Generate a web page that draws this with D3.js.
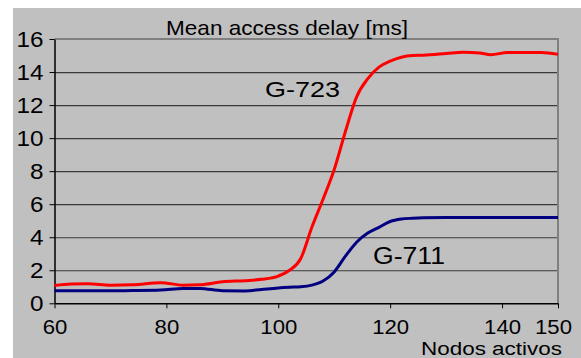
<!DOCTYPE html>
<html><head><meta charset="utf-8">
<script src="https://cdn.jsdelivr.net/npm/d3@7"></script>
<style>html,body{margin:0;padding:0;background:#fff;overflow:hidden}</style>
</head><body>
<svg id="c" width="581" height="358"></svg>
<script>
const nodes = [60, 63, 66, 70, 74, 79, 83, 86, 90, 94, 97, 100, 102, 104, 106, 108, 110, 112, 114, 116, 118, 120, 122, 124, 126, 130, 133, 136, 138, 141, 144, 147, 150];
const g723  = [1.08,1.17,1.18,1.10,1.12,1.25,1.10,1.12,1.30,1.37,1.45,1.65,2.0,2.7,4.6,6.3,8.1,10.4,12.5,13.6,14.3,14.66,14.9,15.0,15.02,15.12,15.2,15.15,15.05,15.18,15.18,15.18,15.07];
const g711  = [0.76,0.76,0.76,0.76,0.77,0.80,0.90,0.90,0.76,0.75,0.84,0.93,0.97,1.0,1.1,1.35,1.9,2.85,3.7,4.25,4.6,4.95,5.1,5.15,5.18,5.2,5.2,5.2,5.2,5.2,5.2,5.2,5.2];
const yTicks = [0,2,4,6,8,10,12,14,16];
const xTicks = [60,80,100,120,140,150];
const title = "Mean access delay [ms]";
const xTitle = "Nodos activos";
const seriesNames = ["G-723","G-711"];

const svg = d3.select("#c");
const F = "'Liberation Sans', Arial, sans-serif";
const L = 54.5, R = 558, T = 39, B = 303.3;
const x = d3.scaleLinear().domain([60,150]).range([L,R]);
const y = d3.scaleLinear().domain([0,16]).range([B,T]);

svg.append("rect").attr("x",13).attr("y",8).attr("width",568).attr("height",350).attr("fill","#c0c0c0");

// gridlines
svg.append("g").attr("transform",`translate(${L},0)`)
  .call(d3.axisLeft(y).tickValues(yTicks.slice(1,-1)).tickSize(-(R-L)).tickFormat(""))
  .call(g=>g.select(".domain").remove())
  .call(g=>g.selectAll("line").attr("stroke","#3a3a3a").attr("stroke-width",1.2));

// border top/right
svg.append("path").attr("d",`M${L},${T}H${R}V${B}`).attr("fill","none").attr("stroke","#808080").attr("stroke-width",2);

// y axis
svg.append("g").attr("transform",`translate(${L},0)`)
  .call(d3.axisLeft(y).tickValues(yTicks).tickSize(5).tickSizeOuter(0).tickPadding(6))
  .call(g=>g.select(".domain").attr("stroke","#000").attr("stroke-width",1.5))
  .call(g=>g.selectAll("line").attr("stroke","#000"))
  .call(g=>g.selectAll("text").attr("font-family",F).attr("font-size",22).attr("fill","#000")
    .attr("textLength",d=>String(d).length*13.5).attr("lengthAdjust","spacingAndGlyphs"));

// x axis
svg.append("g").attr("transform",`translate(0,${B})`)
  .call(d3.axisBottom(x).tickValues(xTicks).tickSize(5).tickSizeOuter(0).tickPadding(12))
  .call(g=>g.select(".domain").attr("stroke","#000").attr("stroke-width",1.5))
  .call(g=>g.selectAll("line").attr("stroke","#000"))
  .call(g=>g.selectAll("text").attr("font-family",F).attr("font-size",20).attr("fill","#000")
    .attr("textLength",d=>String(d).length*12.3).attr("lengthAdjust","spacingAndGlyphs"))
  .call(g=>g.selectAll(".tick").filter(d=>d===150).select("text").attr("dx",-5));

const line = d3.line().x((d,i)=>x(nodes[i])).y(d=>y(d)).curve(d3.curveMonotoneX);
svg.append("path").attr("d",line(g711)).attr("fill","none").attr("stroke","#000080").attr("stroke-width",3);
svg.append("path").attr("d",line(g723)).attr("fill","none").attr("stroke","#ff0000").attr("stroke-width",3);

function label(txt, x0, yb, size, w, anchor){
  svg.append("text").attr("x",x0).attr("y",yb).attr("text-anchor",anchor||"start")
    .attr("font-family",F).attr("font-size",size).attr("fill","#000")
    .attr("textLength",w).attr("lengthAdjust","spacingAndGlyphs").text(txt);
}
label(title, 166, 35, 21, 242);
label(xTitle, 421, 354.5, 18, 141);
label(seriesNames[0], 265, 97, 22.5, 75);
label(seriesNames[1], 373, 263.5, 23, 72);
</script>
</body></html>
